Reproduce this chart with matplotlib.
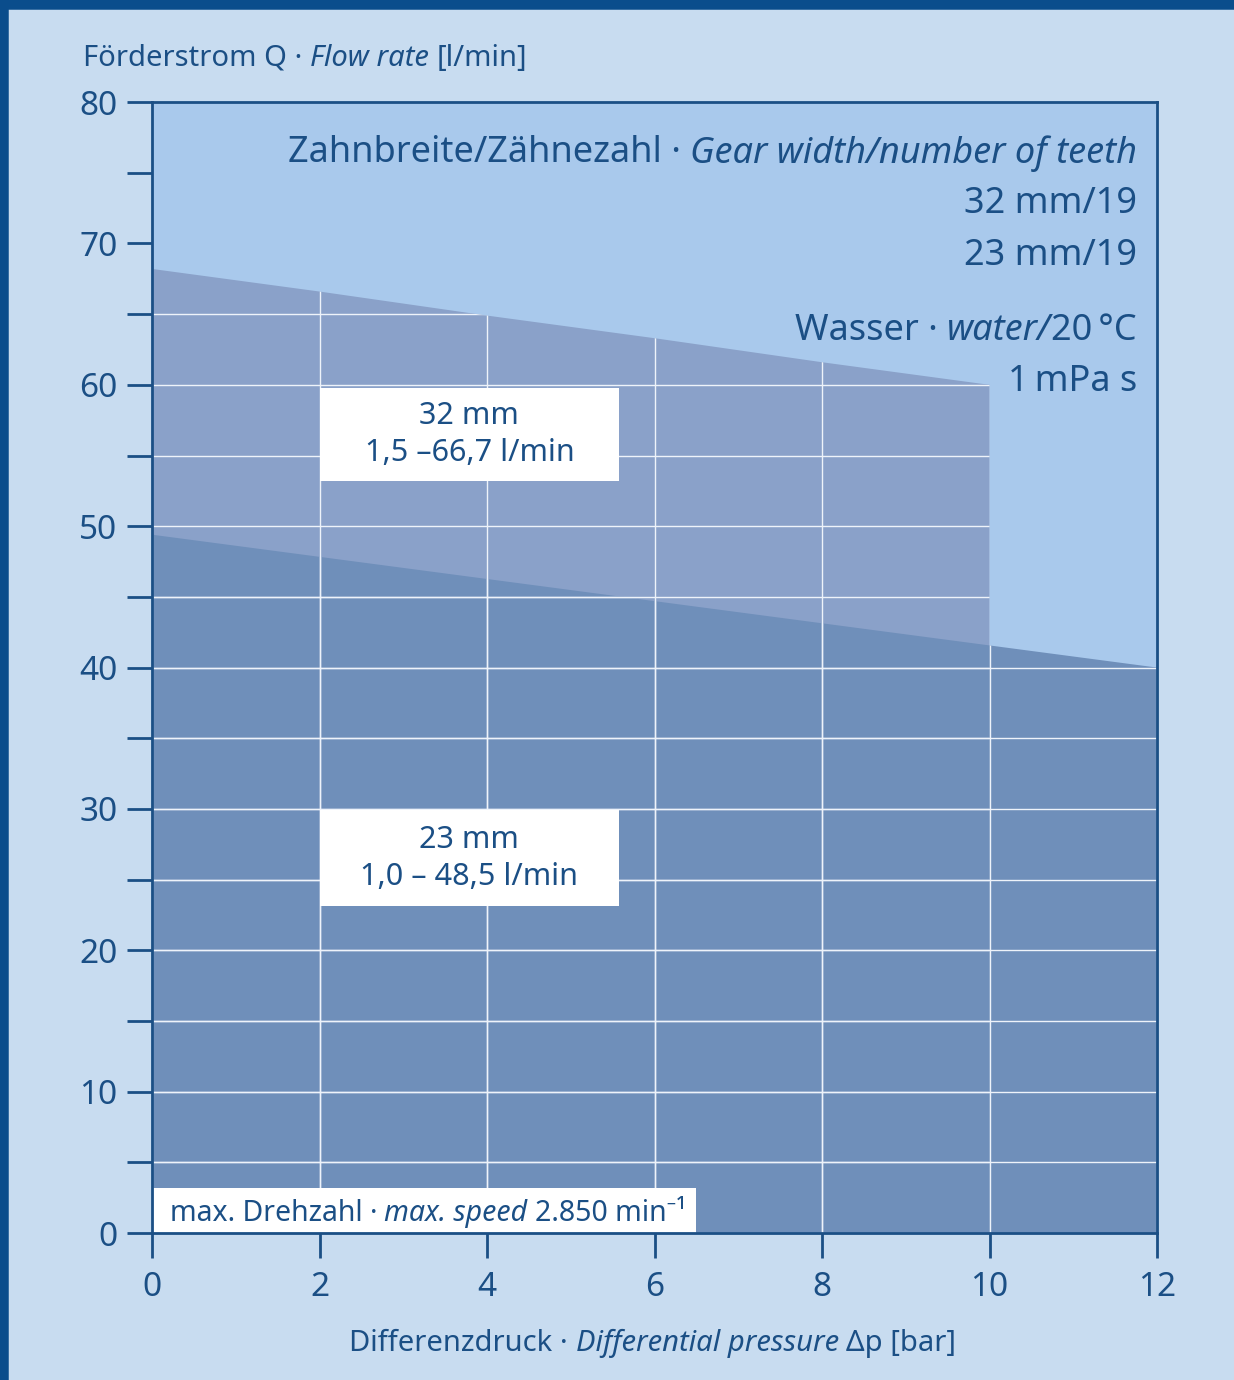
import matplotlib.pyplot as plt
from matplotlib.lines import Line2D
from matplotlib.patches import Polygon
from matplotlib.transforms import offset_copy

plt.rcParams['font.family'] = ['Noto Sans', 'DejaVu Sans']

# pump curves
pressure_32 = [0, 2, 4, 6, 8, 10]
flow_32 = [68.2, 66.6, 64.9, 63.3, 61.6, 60.0]
pressure_23 = [0, 6, 12]
flow_23 = [49.4, 44.7, 40.0]
x_ticks = [0, 2, 4, 6, 8, 10, 12]
y_ticks = [0, 10, 20, 30, 40, 50, 60, 70, 80]
y_minor = [5, 15, 25, 35, 45, 55, 65, 75]

dark = '#1b4f85'
fig_bg = '#c8dcf0'
ax_bg = '#a9c9ec'
col_32 = '#8aa1c9'
col_23 = '#6f8fba'

fig = plt.figure(figsize=(12.34, 13.8), dpi=100, facecolor=fig_bg)
ax = fig.add_axes([0.1232, 0.1065, 0.8144, 0.8195])
ax.set_facecolor(ax_bg)
ax.set_xlim(0, 12)
ax.set_ylim(0, 80)
renderer = fig.canvas.get_renderer()


def rich_text(x, y, pieces, size, transform, ha='left'):
    # pieces: (text, style, spaces after)
    def width(s, style):
        t = fig.text(0, 0, s, fontsize=size, style=style)
        w = t.get_window_extent(renderer).width
        t.remove()
        return w
    sp = width('n n', 'normal') - width('nn', 'normal')
    widths = [width(s, st) for s, st, _ in pieces]
    total = sum(widths) + sum(g * sp for _, _, g in pieces[:-1])
    dx = {'left': 0, 'center': -total / 2, 'right': -total}[ha]
    for (s, st, g), w in zip(pieces, widths):
        tr = offset_copy(transform, fig=fig, x=dx, y=0, units='dots')
        fig.text(x, y, s, transform=tr, fontsize=size, style=st, color=dark,
                 ha='left', va='center_baseline', zorder=7)
        dx += w + g * sp


poly32 = Polygon(list(zip(pressure_32, flow_32)) + [(pressure_32[-1], 0), (0, 0)],
                 closed=True, facecolor=col_32, edgecolor='none', zorder=1)
poly23 = Polygon(list(zip(pressure_23, flow_23)) + [(pressure_23[-1], 0), (0, 0)],
                 closed=True, facecolor=col_23, edgecolor='none', zorder=2)
ax.add_patch(poly32)
ax.add_patch(poly23)

# white grid only inside the filled areas
for clip in (poly32, poly23):
    for yv in sorted(y_ticks + y_minor):
        ln, = ax.plot([0, 12], [yv, yv], color='#eef3fa', lw=1.0, zorder=3)
        ln.set_clip_path(clip)
    for xv in x_ticks:
        ln, = ax.plot([xv, xv], [0, 80], color='#eef3fa', lw=1.0, zorder=3)
        ln.set_clip_path(clip)

for s in ax.spines.values():
    s.set_color(dark)
    s.set_linewidth(2)
    s.set_zorder(5)

ax.set_xticks(x_ticks)
ax.set_yticks(y_ticks)
ax.set_yticks(y_minor, minor=True)
ax.tick_params(axis='both', which='both', direction='out', length=18, width=2,
               color=dark, labelcolor=dark, labelsize=24)
ax.tick_params(axis='y', pad=7)
ax.tick_params(axis='x', pad=9)

# axis titles
rich_text(-0.069, 1.042, [('Förderstrom Q ·', 'normal', 1), ('Flow rate', 'italic', 1),
                          ('[l/min]', 'normal', 0)], 21, ax.transAxes)
rich_text(0.529, 0.029, [('Differenzdruck ·', 'normal', 1),
                         ('Differential pressure', 'italic', 1),
                         ('Δp [bar]', 'normal', 0)], 21, fig.transFigure, ha='center')

# legend-like text top right
rx = 11.76
rich_text(rx, 76.7, [('Zahnbreite/Zähnezahl ·', 'normal', 1),
                     ('Gear width/number of teeth', 'italic', 0)], 26, ax.transData, ha='right')
rich_text(rx, 73.1, [('32 mm/19', 'normal', 0)], 26, ax.transData, ha='right')
rich_text(rx, 69.4, [('23 mm/19', 'normal', 0)], 26, ax.transData, ha='right')
rich_text(rx, 64.1, [('Wasser ·', 'normal', 1), ('water/', 'italic', 0),
                     ('20\u2009°C', 'normal', 0)], 26, ax.transData, ha='right')
rich_text(rx, 60.5, [('1\u2009mPa s', 'normal', 0)], 26, ax.transData, ha='right')

# label boxes
ax.fill_between([2.0, 5.58], 53.2, 59.8, color='white', lw=0, zorder=4)
ax.text(3.79, 56.5, '32 mm\n1,5 –66,7 l/min', ha='center', va='center',
        fontsize=22, color=dark, linespacing=1.3, zorder=6)
ax.fill_between([2.0, 5.58], 23.1, 29.9, color='white', lw=0, zorder=4)
ax.text(3.79, 26.5, '23 mm\n1,0 – 48,5 l/min', ha='center', va='center',
        fontsize=22, color=dark, linespacing=1.3, zorder=6)

ax.fill_between([0, 6.5], 0, 3.2, color='white', lw=0, zorder=4)
rich_text(0.21, 1.6, [('max. Drehzahl ·', 'normal', 1), ('max. speed', 'italic', 1),
                      ('2.850 min⁻¹', 'normal', 0)], 20.5, ax.transData)

# frame border on left and top of figure
fig.add_artist(Line2D([0.002, 0.002], [0, 1], transform=fig.transFigure, color='#0a4d8c', lw=9))
fig.add_artist(Line2D([0, 1], [0.9975, 0.9975], transform=fig.transFigure, color='#0a4d8c', lw=9))

fig.savefig('out.png', dpi=100, facecolor=fig_bg)
